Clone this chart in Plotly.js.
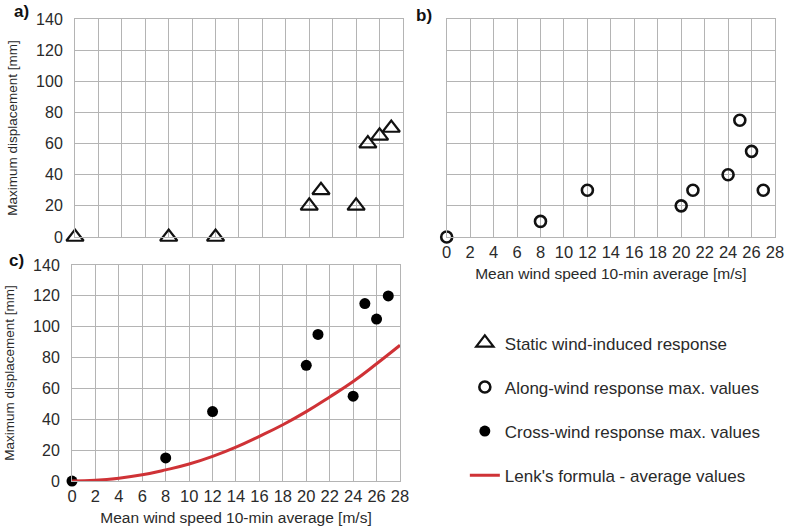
<!DOCTYPE html>
<html><head><meta charset="utf-8">
<script src="https://cdn.plot.ly/plotly-3.0.1.min.js"></script>
<style>html,body{margin:0;padding:0;background:#fff}#c{width:786px;height:529px}</style>
</head><body><div id="c"></div>
<script>
// Data
var windSpeed = [0, 8, 12, 20, 21, 24, 25, 26, 27];
var staticResp = [0, 0, 0, 20, 30, 20, 60, 65, 70];
var alongResp = [0, 10, 30, 20, 30, 40, 75, 55, 30];
var crossResp = [0, 15, 45, 75, 95, 55, 115, 105, 120];
var lenkX = [0, 2, 4, 6, 8, 10, 12, 14, 16, 18, 20, 22, 24, 26, 28];
var lenkY = [0, 0.45, 1.8, 4, 7.2, 11, 16, 22, 29, 36.5, 45, 54.5, 64.5, 76, 88];
var xTicks = [0, 2, 4, 6, 8, 10, 12, 14, 16, 18, 20, 22, 24, 26, 28];
var yTicks = [0, 20, 40, 60, 80, 100, 120, 140];
var names = ["Static wind-induced response", "Along-wind response max. values",
             "Cross-wind response max. values", "Lenk's formula - average values"];

var FONT = "Liberation Sans, Arial, sans-serif";
var gridC = "#b4b4b4";

var traces = [
  {x: windSpeed, y: staticResp, xaxis: "x", yaxis: "y", mode: "markers", name: names[0],
   legendgroup: "g1", cliponaxis: false,
   marker: {symbol: "triangle-up-open", size: 15, color: "#111", line: {width: 2.2, color: "#111"}}},
  {x: windSpeed, y: alongResp, xaxis: "x2", yaxis: "y2", mode: "markers", name: names[1],
   legendgroup: "g2", cliponaxis: false,
   marker: {symbol: "circle-open", size: 11, color: "#111", line: {width: 2.6, color: "#111"}}},
  {x: windSpeed, y: crossResp, xaxis: "x3", yaxis: "y3", mode: "markers", name: names[2],
   legendgroup: "g3", cliponaxis: false,
   marker: {symbol: "circle", size: 11, color: "#000"}},
  {x: lenkX, y: lenkY, xaxis: "x3", yaxis: "y3", mode: "lines", name: names[3],
   legendgroup: "g4", line: {color: "#cf3236", width: 3, shape: "spline", smoothing: 1.3}}
];

function xa(domain, showLabels, anchor) {
  return {domain: domain, range: [0, 28], anchor: anchor, tickvals: xTicks, showticklabels: showLabels,
    showgrid: true, gridcolor: gridC, gridwidth: 1, zeroline: false, showline: true, linecolor: gridC,
    mirror: true, ticks: "", fixedrange: true, tickfont: {size: 16.5, color: "#2a2a2a", family: FONT}};
}
function ya(domain, showLabels, anchor) {
  return {domain: domain, range: [0, 140], anchor: anchor, tickvals: yTicks, showticklabels: showLabels,
    showgrid: true, gridcolor: gridC, gridwidth: 1, zeroline: false, showline: true, linecolor: gridC,
    mirror: true, ticks: "", ticklabelstandoff: 8, fixedrange: true,
    tickfont: {size: 16, color: "#2a2a2a", family: FONT}};
}

var xTitle = {text: "Mean wind speed 10-min average [m/s]", standoff: 8,
  font: {size: 15.5, color: "#2a2a2a", family: FONT}};
var yTitle = {text: "Maximum displacement [mm]", standoff: 15,
  font: {size: 13.5, color: "#2a2a2a", family: FONT}};

var layout = {
  width: 786, height: 529, margin: {l: 0, r: 0, t: 0, b: 0},
  paper_bgcolor: "#fff", plot_bgcolor: "#fff",
  font: {family: FONT, color: "#2a2a2a"},
  xaxis: xa([0.0954, 0.5127], false, "y"),
  yaxis: Object.assign(ya([0.552, 0.964], true, "x"), {title: yTitle}),
  xaxis2: Object.assign(xa([0.5683, 0.986], true, "y2"), {title: xTitle}),
  yaxis2: ya([0.552, 0.964], false, "x2"),
  xaxis3: Object.assign(xa([0.0916, 0.5089], true, "y3"), {title: xTitle}),
  yaxis3: Object.assign(ya([0.0907, 0.499], true, "x3"), {title: yTitle}),
  showlegend: true,
  legend: {x: 0.5914, y: 0.385, xanchor: "left", yanchor: "top", traceorder: "grouped",
    tracegroupgap: 19, itemwidth: 30, bgcolor: "rgba(0,0,0,0)",
    font: {size: 17, color: "#2a2a2a", family: FONT}},
  annotations: [
    {text: "<b>a)</b>", xref: "paper", yref: "paper", x: 12 / 786, y: 1 - 12 / 529, xanchor: "left", yanchor: "middle",
     showarrow: false, font: {size: 17, color: "#111", family: FONT}},
    {text: "<b>b)</b>", xref: "paper", yref: "paper", x: 414 / 786, y: 1 - 15 / 529, xanchor: "left", yanchor: "middle",
     showarrow: false, font: {size: 17, color: "#111", family: FONT}},
    {text: "<b>c)</b>", xref: "paper", yref: "paper", x: 7 / 786, y: 1 - 260 / 529, xanchor: "left", yanchor: "middle",
     showarrow: false, font: {size: 17, color: "#111", family: FONT}}
  ]
};

Plotly.newPlot("c", traces, layout, {displayModeBar: false, staticPlot: true});
</script>
</body></html>
